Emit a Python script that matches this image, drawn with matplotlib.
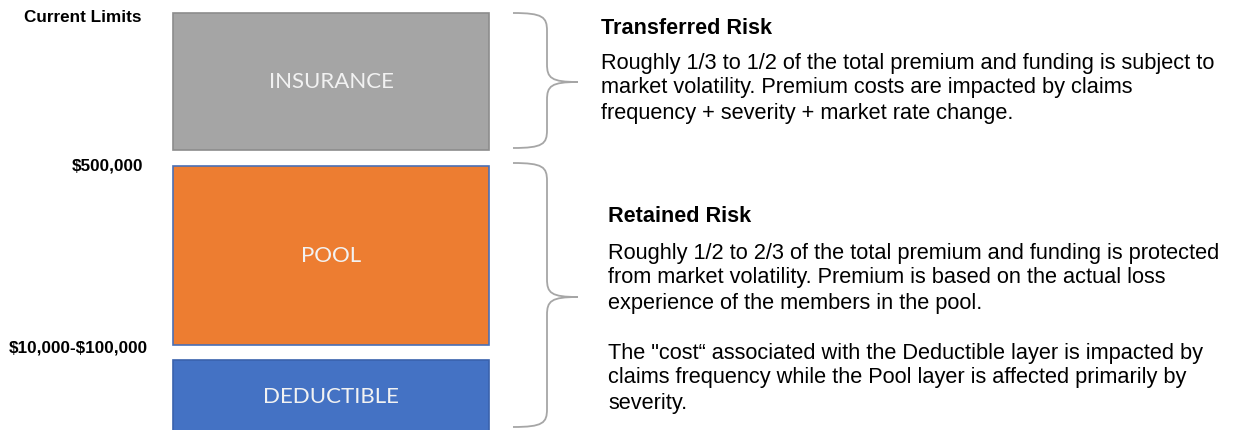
import matplotlib
matplotlib.use("Agg")
import matplotlib.pyplot as plt
from matplotlib.patches import Rectangle, PathPatch
from matplotlib.path import Path

plt.rcParams["text.parse_math"] = False

# ---- content ----
layers = ["INSURANCE", "POOL", "DEDUCTIBLE"]
layer_colors = ["#a5a5a5", "#ed7d31", "#4472c4"]
layer_edges = ["#8c8c8c", "#4a6fb5", "#3a62ad"]
limit_labels = ["Current Limits", "$500,000", "$10,000-$100,000"]
section_titles = ["Transferred Risk", "Retained Risk"]
section_bodies = [
    ["Roughly 1/3 to 1/2 of the total premium and funding is subject to",
     "market volatility. Premium costs are impacted by claims",
     "frequency + severity + market rate change."],
    ["Roughly 1/2 to 2/3 of the total premium and funding is protected",
     "from market volatility. Premium is based on the actual loss",
     "experience of the members in the pool.",
     "",
     "The \"cost\u201c associated with the Deductible layer is impacted by",
     "claims frequency while the Pool layer is affected primarily by",
     "severity."],
]

# ---- layout (pixel coordinates) ----
W, H = 1238, 430
box_x0, box_x1 = 173, 489
box_y = [(13, 150), (166, 345), (360, 440)]
label_pos = [(141, 18), (143, 166), (148, 348)]
brace_spans = [(13, 148, 82), (163, 427, 297)]
text_x = [601, 608]
title_y = [28, 216]
body_y0 = [63, 253]
line_h = 25

fig = plt.figure(figsize=(W / 100, H / 100), dpi=100)
ax = fig.add_axes([0, 0, 1, 1])
ax.set_xlim(0, W)
ax.set_ylim(H, 0)
ax.axis("off")

box_font = ["Lato", "DejaVu Sans"]
for name, fc, ec, (y0, y1) in zip(layers, layer_colors, layer_edges, box_y):
    ax.add_patch(Rectangle((box_x0, y0), box_x1 - box_x0, y1 - y0,
                           facecolor=fc, edgecolor=ec, linewidth=1.2))
    yc = (y0 + min(y1, H)) / 2 if name != "DEDUCTIBLE" else 397
    ax.text((box_x0 + box_x1) / 2, yc, name, ha="center", va="center",
            color="#f2f2f2", fontsize=16, family=box_font)

for lab, (x, y) in zip(limit_labels, label_pos):
    ax.text(x, y, lab, ha="right", va="center", fontsize=12.3,
            fontweight="bold", family="Liberation Sans", color="#000000")

def brace(top, bot, tip, xl=513, xm=547, xr=578):
    r = 18
    verts = [
        (xl, top),
        (xm - 4, top), (xm, top + 4), (xm, top + r),
        (xm, tip - r),
        (xm, tip - 4), (xm + 4, tip), (xr, tip),
        (xm + 4, tip), (xm, tip + 4), (xm, tip + r),
        (xm, bot - r),
        (xm, bot - 4), (xm - 4, bot), (xl, bot),
    ]
    codes = [Path.MOVETO,
             Path.CURVE4, Path.CURVE4, Path.CURVE4,
             Path.LINETO,
             Path.CURVE4, Path.CURVE4, Path.CURVE4,
             Path.CURVE4, Path.CURVE4, Path.CURVE4,
             Path.LINETO,
             Path.CURVE4, Path.CURVE4, Path.CURVE4]
    ax.add_patch(PathPatch(Path(verts, codes), facecolor="none",
                           edgecolor="#a6a6a6", linewidth=1.3))

for top, bot, tip in brace_spans:
    brace(top, bot, tip)

for i in range(2):
    ax.text(text_x[i], title_y[i], section_titles[i], ha="left", va="center",
            fontsize=15.6, fontweight="bold", family="Liberation Sans")
    for j, line in enumerate(section_bodies[i]):
        ax.text(text_x[i], body_y0[i] + j * line_h, line, ha="left",
                va="center", fontsize=15.7, family="Liberation Sans")

fig.savefig("out.png", dpi=100)
